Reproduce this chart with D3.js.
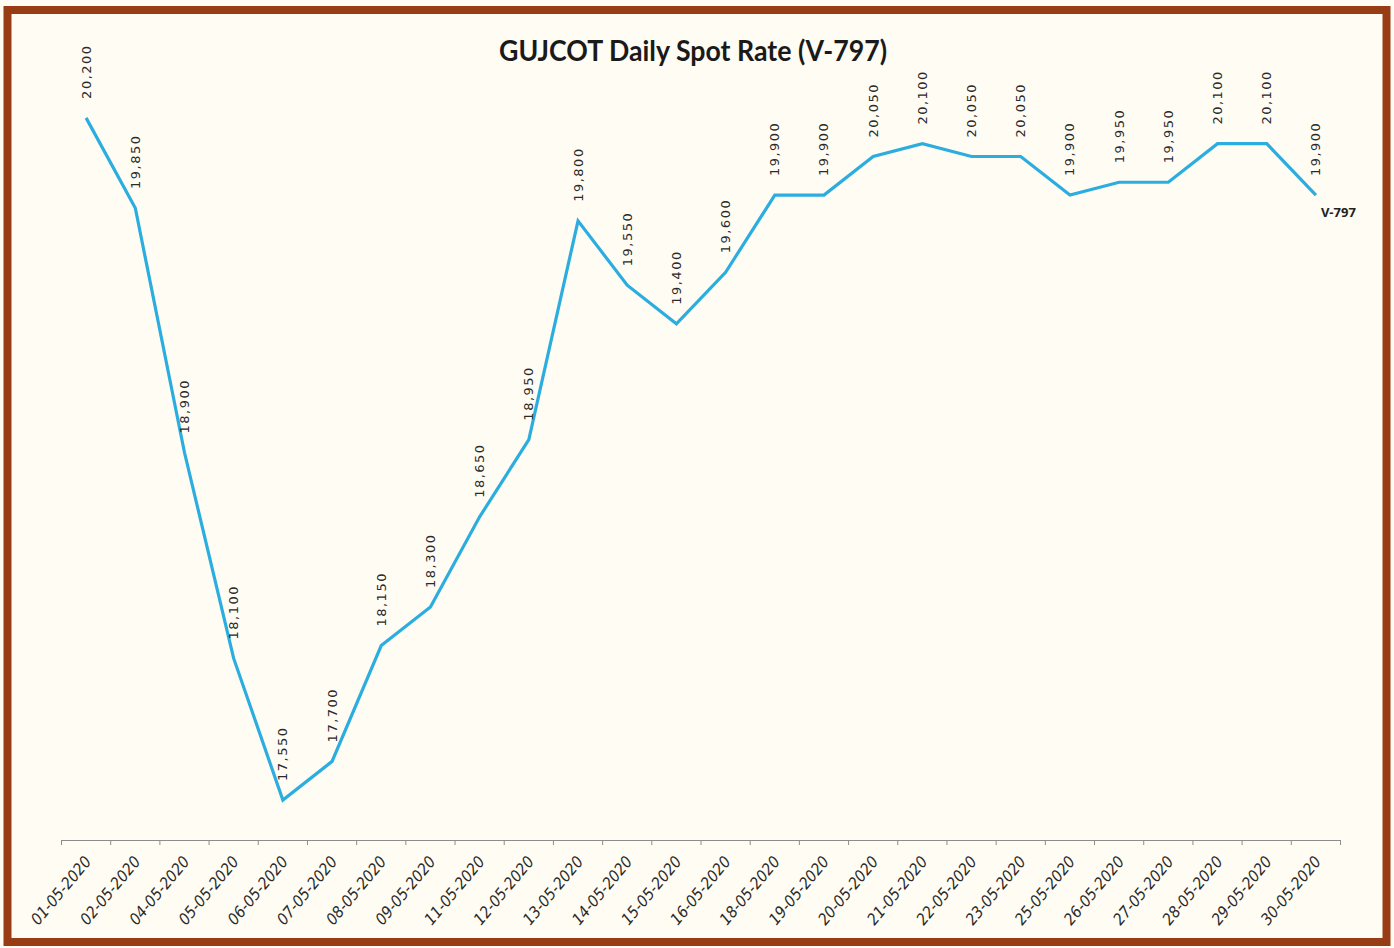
<!DOCTYPE html>
<html><head><meta charset="utf-8">
<script src="https://cdn.jsdelivr.net/npm/d3@7"></script>
<style>
html,body{margin:0;padding:0;background:#FFFCF4;}
svg{display:block;}
</style></head>
<body>
<svg id="chart" width="1394" height="948"></svg>
<script>
const categories = ["01-05-2020","02-05-2020","04-05-2020","05-05-2020","06-05-2020","07-05-2020","08-05-2020","09-05-2020","11-05-2020","12-05-2020","13-05-2020","14-05-2020","15-05-2020","16-05-2020","18-05-2020","19-05-2020","20-05-2020","21-05-2020","22-05-2020","23-05-2020","25-05-2020","26-05-2020","27-05-2020","28-05-2020","29-05-2020","30-05-2020"];
const values = [20200,19850,18900,18100,17550,17700,18150,18300,18650,18950,19800,19550,19400,19600,19900,19900,20050,20100,20050,20050,19900,19950,19950,20100,20100,19900];
const seriesName = "V-797";
const title = "GUJCOT Daily Spot Rate (V-797)";
const yDomain = [17400, 20400];

const svg = d3.select("#chart");
const W = 1394, H = 948;

svg.append("rect").attr("x",0).attr("y",0).attr("width",W).attr("height",H).attr("fill","#FFFCF4");
svg.append("rect").attr("x",7.5).attr("y",10).attr("width",1379).attr("height",932)
  .attr("fill","#FFFCF3").attr("stroke","#983C16").attr("stroke-width",8);

const x = d3.scaleBand().domain(categories).range([61.5, 1340.5]);
const y = d3.scaleLinear().domain(yDomain).range([838.6, 66.4]);
const axisY = 840;

svg.append("text").attr("x",693).attr("y",61).attr("text-anchor","middle")
  .attr("font-family","Lato, 'Open Sans', sans-serif").attr("font-weight","bold")
  .attr("font-size",28).attr("fill","#1a1a1a").attr("textLength",388).attr("lengthAdjust","spacingAndGlyphs")
  .text(title);

const xAxis = d3.axisBottom(x).tickSize(0).tickFormat("");
const gx = svg.append("g").attr("transform",`translate(0,${axisY})`).call(xAxis);
gx.select(".domain").attr("stroke","#8c8c8c").attr("stroke-width",1.2);
const bounds = categories.map(c => x(c)).concat([x.range()[1]]);
gx.selectAll("line.bt").data(bounds).enter().append("line").attr("class","bt")
  .attr("x1",d=>d).attr("x2",d=>d).attr("y1",0).attr("y2",5)
  .attr("stroke","#8c8c8c").attr("stroke-width",1);
svg.append("g").selectAll("text").data(categories).enter().append("text")
  .attr("transform", d => `translate(${x(d)+x.bandwidth()/2+6},${axisY+22}) rotate(-50)`)
  .attr("text-anchor","end")
  .attr("font-family","'DejaVu Sans Condensed', 'DejaVu Sans', sans-serif").attr("font-size",16)
  .attr("fill","#2a2a2a").attr("font-style","italic")
  .text(d=>d);

const cx = (d,i) => x(categories[i]) + x.bandwidth()/2;
const line = d3.line().x((d,i)=>cx(d,i)).y(d=>y(d));
svg.append("path").datum(values).attr("d",line).attr("fill","none")
  .attr("stroke","#2BAEDF").attr("stroke-width",3.2).attr("stroke-linejoin","miter");

svg.append("g").selectAll("text").data(values).enter().append("text")
  .attr("transform",(d,i)=>`translate(${cx(d,i)+4.5},${y(d)-19}) rotate(-90)`)
  .attr("text-anchor","start")
  .attr("font-family","'DejaVu Sans', Verdana, sans-serif").attr("font-size",13)
  .attr("letter-spacing",1.5).attr("fill","#2a2a2a")
  .text(d=>d3.format(",")(d));

svg.append("text").attr("x",cx(0,values.length-1)+5).attr("y",y(values[values.length-1])+22)
  .attr("font-family","'Liberation Sans Narrow', 'Open Sans', sans-serif").attr("font-weight","bold")
  .attr("font-size",13).attr("fill","#222").text(seriesName);
</script>
</body></html>
